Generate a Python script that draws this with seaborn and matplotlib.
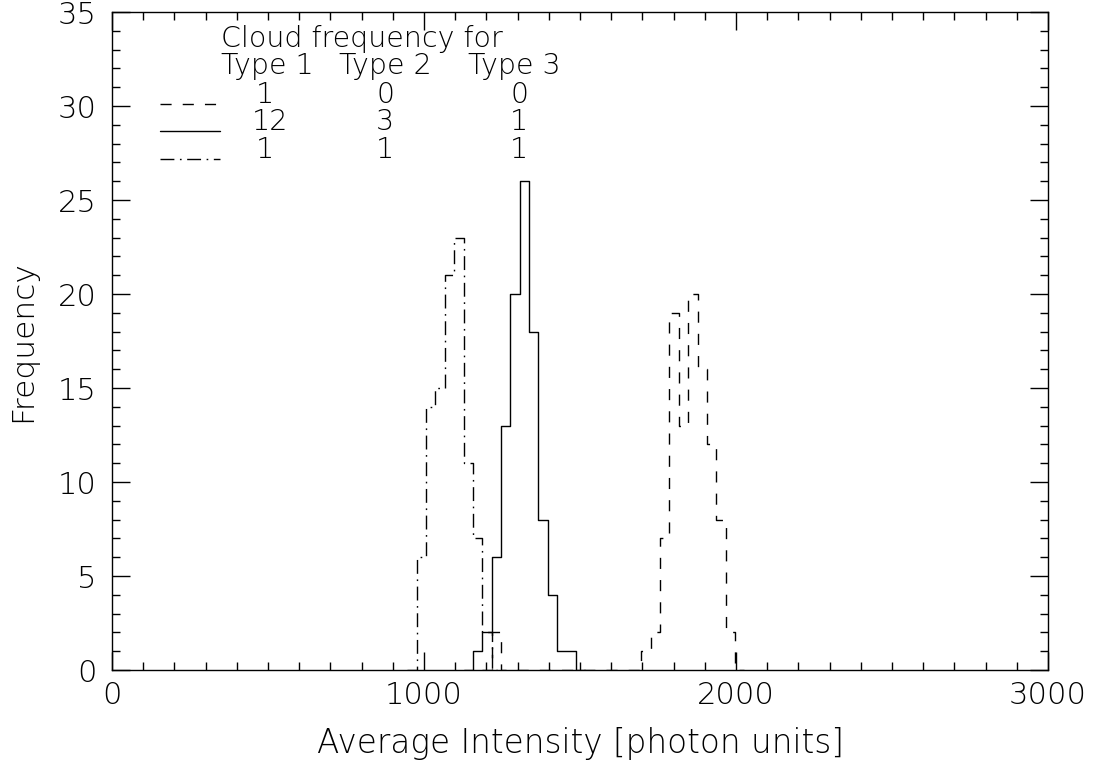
import numpy as np
import pandas as pd
import matplotlib
matplotlib.use("Agg")
import matplotlib.pyplot as plt
import seaborn as sns
from matplotlib.ticker import MultipleLocator

# ---- data ----
bin_width = 30.0
# dash-dot histogram
dashdot_start = 946.6
dashdot_counts = [0, 6, 14, 15, 21, 23, 11, 7, 2, 0]
# solid histogram
solid_start = 1126.6
solid_counts = [0, 1, 2, 6, 13, 20, 26, 18, 8, 4, 1, 1, 0]
# dashed histogram (small outlier bump + main body)
dashed_start = 1186.6
dashed_counts = [0, 2] + [0] * 15 + [1, 2, 7, 19, 13, 20, 16, 12, 8, 2, 0]

legend_title = "Cloud frequency for"
legend_header = ["Type 1", "Type 2", "Type 3"]
legend_rows = [["1", "0", "0"], ["12", "3", "1"], ["1", "1", "1"]]

x_ticks = [0, 1000, 2000, 3000]
y_ticks = [0, 5, 10, 15, 20, 25, 30, 35]

sns.set_style("ticks")
plt.rcParams["font.family"] = ["DejaVu Sans"]
plt.rcParams["font.weight"] = 200

TXT = "#000000"
W = 200
fig = plt.figure(figsize=(10.94, 7.66), dpi=100)
ax = fig.add_axes([0.1024, 0.1253, 0.8556, 0.859])


def make_df(start, counts):
    centers = [start + bin_width * (i + 0.5) for i in range(len(counts))]
    return pd.DataFrame({"x": centers, "w": counts})


def edges_for(start, counts):
    return [start + bin_width * i for i in range(len(counts) + 1)]


DASH = (0, (8, 8))
DASHDOT = (0, (10, 4, 1.2, 4))
styles = [
    (dashdot_start, dashdot_counts, DASHDOT),
    (solid_start, solid_counts, "-"),
    (dashed_start, dashed_counts, DASH),
]
for start, counts, ls in styles:
    df = make_df(start, counts)
    sns.histplot(data=df, x="x", weights="w", bins=edges_for(start, counts),
                 element="step", fill=False, color="black", linewidth=1.0,
                 linestyle=ls, ax=ax)

ax.set_xlim(0, 3000)
ax.set_ylim(0, 35)
ax.set_xticks(x_ticks)
ax.set_yticks(y_ticks)
ax.xaxis.set_minor_locator(MultipleLocator(100))
ax.yaxis.set_minor_locator(MultipleLocator(1))
ax.tick_params(which="both", direction="in", top=True, right=True, color="black", width=1.0)
ax.tick_params(which="major", length=13, labelsize=22, labelcolor=TXT)
ax.tick_params(which="minor", length=6)
ax.tick_params(axis="y", which="major", pad=11)
ax.tick_params(axis="x", which="major", pad=8)
for lab in ax.get_xticklabels() + ax.get_yticklabels():
    lab.set_fontweight(W)
for s in ax.spines.values():
    s.set_visible(True)
    s.set_linewidth(1.0)
    s.set_color("black")

ax.set_xlabel("Average Intensity [photon units]", fontsize=23.5, fontweight=W,
              labelpad=12, color=TXT)
ax.set_ylabel("Frequency", fontsize=22.5, fontweight=W, labelpad=15, color=TXT)

# ---- legend-like text block (axes fraction coordinates) ----
def fx(px):
    return (px - 112) / (1048 - 112)


def fy(py):
    return (670 - py) / (670 - 12)


tkw = dict(transform=ax.transAxes, fontsize=20.5, fontweight=W, color=TXT, va="center")
ax.text(fx(221), fy(39), legend_title, ha="left", **tkw)
head_x = [221, 339, 468]
for hx, h in zip(head_x, legend_header):
    ax.text(fx(hx), fy(66), h, ha="left", **tkw)
col_x = [265, 385, 519]
row_y = [95, 122, 150]
for r, row in enumerate(legend_rows):
    for c, val in enumerate(row):
        xx = col_x[c] + (5 if len(val) == 2 else 0)
        ax.text(fx(xx), fy(row_y[r]), val, ha="center", **tkw)

line_styles = [DASH, "-", DASHDOT]
for r, ls in enumerate(line_styles):
    y = fy(row_y[r] + 9)
    ax.plot([fx(160), fx(220)], [y, y], transform=ax.transAxes, color="black",
            linewidth=1.0, linestyle=ls, clip_on=False)

fig.savefig("out.png", dpi=100)
